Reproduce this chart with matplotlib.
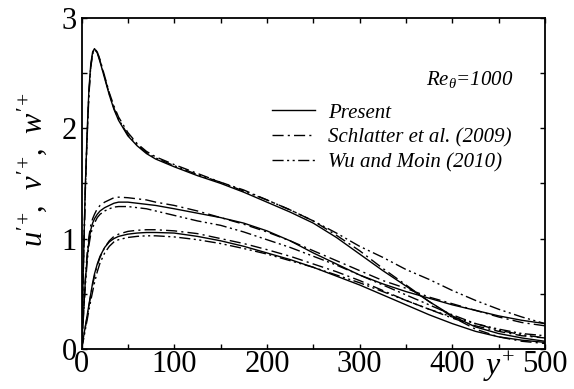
import matplotlib
matplotlib.use('Agg')
import matplotlib.pyplot as plt
from matplotlib.ticker import MultipleLocator

plt.rcParams['font.family'] = ['Liberation Serif', 'DejaVu Serif']
plt.rcParams['mathtext.fontset'] = 'custom'
plt.rcParams['mathtext.rm'] = 'Liberation Serif'
plt.rcParams['mathtext.it'] = 'Liberation Serif:italic'

# wall distance y+ (shared grid for all profiles)
yplus = [0, 2, 4, 6, 8, 10, 12, 14, 17, 20, 25, 30, 35, 40, 50, 60, 70, 80,
         100, 125, 150, 175, 200, 225, 250, 275, 300, 325, 350, 375, 400,
         425, 450, 475, 500]

# u'+
u_present = [0, 0.75, 1.45, 1.95, 2.35, 2.58, 2.69, 2.72, 2.68, 2.60, 2.45,
             2.30, 2.17, 2.07, 1.93, 1.84, 1.77, 1.72, 1.65, 1.57, 1.50,
             1.42, 1.33, 1.24, 1.14, 1.01, 0.86, 0.71, 0.57, 0.43, 0.30,
             0.20, 0.14, 0.10, 0.07]
u_schlatter = [0, 0.72, 1.40, 1.90, 2.30, 2.55, 2.67, 2.71, 2.69, 2.62, 2.47,
               2.32, 2.20, 2.10, 1.96, 1.86, 1.79, 1.74, 1.67, 1.59, 1.51,
               1.44, 1.35, 1.26, 1.16, 1.03, 0.89, 0.73, 0.58, 0.43, 0.29,
               0.18, 0.11, 0.07, 0.05]
u_wu = [0, 0.73, 1.42, 1.92, 2.32, 2.56, 2.68, 2.72, 2.69, 2.61, 2.46,
        2.31, 2.18, 2.08, 1.94, 1.85, 1.78, 1.73, 1.66, 1.58, 1.51,
        1.43, 1.35, 1.26, 1.16, 1.05, 0.93, 0.83, 0.72, 0.63, 0.53,
        0.44, 0.36, 0.29, 0.23]

# w'+
w_present = [0, 0.30, 0.60, 0.82, 0.98, 1.08, 1.14, 1.18, 1.22, 1.25, 1.28,
             1.30, 1.32, 1.33, 1.33, 1.32, 1.31, 1.30, 1.27, 1.23, 1.19,
             1.14, 1.07, 0.98, 0.87, 0.77, 0.67, 0.59, 0.52, 0.46, 0.40,
             0.35, 0.30, 0.26, 0.23]
w_schlatter = [0, 0.30, 0.62, 0.86, 1.02, 1.12, 1.18, 1.22, 1.27, 1.30, 1.33,
               1.35, 1.37, 1.375, 1.37, 1.36, 1.35, 1.33, 1.30, 1.25, 1.19,
               1.13, 1.06, 0.98, 0.89, 0.80, 0.71, 0.62, 0.55, 0.47, 0.41,
               0.35, 0.29, 0.24, 0.21]
w_wu = [0, 0.28, 0.56, 0.78, 0.94, 1.04, 1.10, 1.14, 1.19, 1.22, 1.25,
        1.27, 1.285, 1.29, 1.29, 1.28, 1.27, 1.25, 1.21, 1.16, 1.12,
        1.06, 0.99, 0.92, 0.84, 0.76, 0.67, 0.58, 0.49, 0.40, 0.31,
        0.23, 0.17, 0.13, 0.10]

# v'+
v_present = [0, 0.10, 0.20, 0.30, 0.40, 0.50, 0.60, 0.68, 0.77, 0.84, 0.92,
             0.97, 1.00, 1.02, 1.04, 1.05, 1.055, 1.055, 1.05, 1.02, 0.98,
             0.93, 0.87, 0.81, 0.74, 0.66, 0.58, 0.49, 0.40, 0.31, 0.23,
             0.16, 0.11, 0.08, 0.06]
v_schlatter = [0, 0.09, 0.19, 0.29, 0.39, 0.49, 0.58, 0.66, 0.76, 0.83, 0.92,
               0.98, 1.02, 1.04, 1.065, 1.075, 1.08, 1.08, 1.07, 1.045, 1.00,
               0.955, 0.90, 0.84, 0.77, 0.70, 0.62, 0.53, 0.44, 0.36, 0.28,
               0.21, 0.16, 0.12, 0.10]
v_wu = [0, 0.08, 0.17, 0.26, 0.35, 0.44, 0.52, 0.60, 0.70, 0.78, 0.87,
        0.93, 0.97, 0.99, 1.01, 1.02, 1.025, 1.025, 1.015, 0.99, 0.955,
        0.91, 0.86, 0.80, 0.74, 0.67, 0.60, 0.52, 0.44, 0.36, 0.29,
        0.23, 0.18, 0.14, 0.12]

labels = ['Present', 'Schlatter et al. (2009)', 'Wu and Moin (2010)']
styles = [dict(linestyle='-'),
          dict(linestyle=(0, (8, 3, 1.5, 3))),
          dict(linestyle=(0, (8, 2.5, 1.5, 2.5, 1.5, 2.5)))]

fig = plt.figure(figsize=(5.74, 3.89), dpi=100)
ax = fig.add_axes([0.142, 0.1028, 0.8075, 0.8517])

groups = [(u_present, u_schlatter, u_wu),
          (w_present, w_schlatter, w_wu),
          (v_present, v_schlatter, v_wu)]
handles = []
for gi, grp in enumerate(groups):
    for series, lab, st in zip(grp, labels, styles):
        ln, = ax.plot(yplus, series, color='black', lw=1.0, **st)
        if gi == 0:
            handles.append(ln)

ax.set_xlim(0, 500)
ax.set_ylim(0, 3)
ax.xaxis.set_major_locator(MultipleLocator(100))
ax.xaxis.set_minor_locator(MultipleLocator(50))
ax.yaxis.set_major_locator(MultipleLocator(1))
ax.yaxis.set_minor_locator(MultipleLocator(0.5))
ax.tick_params(which='both', direction='in', top=True, right=True,
               length=3.6, width=1.0)
ax.tick_params(axis='x', labelsize=22, pad=1)
ax.tick_params(axis='y', labelsize=22, pad=3.5)
for sp in ax.spines.values():
    sp.set_linewidth(1.3)

ax.set_ylabel(r"$u'^{+}$,  $v'^{+}$,  $w'^{+}$", fontsize=22)
ax.yaxis.set_label_coords(-0.071, 0.54)
ax.text(0.90, -0.0785, r'$y^{+}$', transform=ax.transAxes, fontsize=23,
        ha='center', va='baseline')

ax.text(0.931, 0.797, r'$Re_{\theta}$=1000', transform=ax.transAxes,
        fontsize=15, style='italic', ha='right', va='baseline')

ax.legend(handles, labels, loc='upper left',
          bbox_to_anchor=(271.7 / 574, 1 - 103 / 389),
          bbox_transform=fig.transFigure, frameon=False, borderpad=0,
          borderaxespad=0, handlelength=2.07, handletextpad=0.63,
          labelspacing=0.25, prop=dict(size=15, style='italic'))

fig.savefig('out.png', dpi=100)
